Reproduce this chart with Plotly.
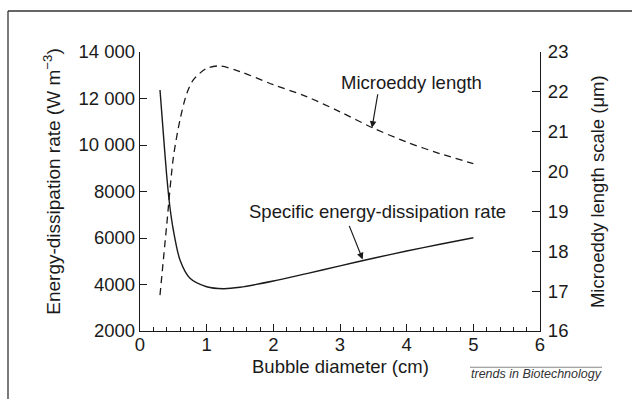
import plotly.graph_objects as go

# Data
diam_energy = [0.3, 0.35, 0.4, 0.45, 0.5, 0.6, 0.75, 1.0, 1.25, 1.5, 2.0, 2.5, 3.0, 3.5, 4.0, 4.5, 5.0]
energy_rate = [12366, 10500, 8700, 7300, 6344, 5054, 4267, 3905, 3820, 3880, 4150, 4470, 4800, 5130, 5440, 5730, 6010]

diam_eddy = [0.3, 0.4, 0.5, 0.6, 0.7, 0.8, 1.0, 1.2, 1.5, 2.0, 2.5, 3.0, 3.5, 4.0, 4.5, 5.0]
eddy_length = [16.9, 18.65, 20.35, 21.3, 21.95, 22.3, 22.59, 22.65, 22.51, 22.18, 21.88, 21.5, 21.09, 20.74, 20.45, 20.2]

x_ticks = [0, 1, 2, 3, 4, 5, 6]
y_ticks = [2000, 4000, 6000, 8000, 10000, 12000, 14000]
y_ticktext = ["2000", "4000", "6000", "8000", "10 000", "12 000", "14 000"]
y2_ticks = [16, 17, 18, 19, 20, 21, 22, 23]

FONT = "Liberation Sans, Arial, sans-serif"
INK = "#1a1a1a"
FS = 18.5

fig = go.Figure()
fig.add_trace(go.Scatter(x=diam_energy, y=energy_rate, mode="lines",
                         line=dict(color=INK, width=1.4, shape="spline", smoothing=0.8),
                         showlegend=False, yaxis="y", hoverinfo="skip"))
fig.add_trace(go.Scatter(x=diam_eddy, y=eddy_length, mode="lines",
                         line=dict(color=INK, width=1.3, dash="7px,5px", shape="spline", smoothing=0.8),
                         showlegend=False, yaxis="y2", hoverinfo="skip"))

axis_common = dict(showgrid=False, zeroline=False, showline=True, linecolor=INK, linewidth=1.3,
                   ticks="inside", tickcolor=INK, tickwidth=1.2,
                   tickfont=dict(family=FONT, size=FS, color=INK))

fig.update_layout(
    width=632, height=399,
    margin=dict(l=140, r=92, t=52, b=68),
    paper_bgcolor="white", plot_bgcolor="white",
    font=dict(family=FONT, color=INK),
    xaxis=dict(range=[0, 6], tickvals=x_ticks, ticklen=7, ticklabelstandoff=-3,
               minor=dict(ticks="inside", dtick=0.2, ticklen=4, tickcolor=INK, tickwidth=1.1),
               **axis_common),
    yaxis=dict(range=[2000, 14000], tickvals=y_ticks, ticktext=y_ticktext, ticklen=7,
               **axis_common),
    yaxis2=dict(range=[16, 23], tickvals=y2_ticks, ticklen=8, overlaying="y", side="right",
                ticklabelstandoff=3, **axis_common),
)

annotations = [
    dict(text="Bubble diameter (cm)", x=0.5, y=-0.128, xref="paper", yref="paper",
         showarrow=False, font=dict(size=FS, family=FONT, color=INK), xanchor="center", yanchor="middle"),
    dict(text="Energy-dissipation rate (W m<sup>−3</sup>)", x=-0.22, y=0.535, xref="paper", yref="paper",
         showarrow=False, textangle=-90, font=dict(size=19, family=FONT, color=INK),
         xanchor="center", yanchor="middle"),
    dict(text="Microeddy length scale (μm)", x=1.1425, y=0.498, xref="paper", yref="paper",
         showarrow=False, textangle=-90, font=dict(size=FS, family=FONT, color=INK),
         xanchor="center", yanchor="middle"),
    dict(text="Microeddy length", x=0.6775, y=0.889, xref="paper", yref="paper",
         showarrow=False, font=dict(size=FS, family=FONT, color=INK), xanchor="center", yanchor="middle"),
    dict(text="Specific energy-dissipation rate", x=0.594, y=0.4276, xref="paper", yref="paper",
         showarrow=False, font=dict(size=FS, family=FONT, color=INK), xanchor="center", yanchor="middle"),
    dict(text="", x=3.48, y=21.10, xref="x", yref="y2", ax=6, ay=-35, showarrow=True,
         arrowhead=2, arrowsize=1.1, arrowwidth=1.2, arrowcolor=INK, standoff=0),
    dict(text="", x=3.34, y=5080, xref="x", yref="y", ax=-14, ay=-35, showarrow=True,
         arrowhead=2, arrowsize=1.1, arrowwidth=1.2, arrowcolor=INK, standoff=0),
    dict(text="<i>trends in Biotechnology</i>", x=0.99, y=-0.154, xref="paper", yref="paper",
         showarrow=False, font=dict(size=12.5, family=FONT, color="#333333"),
         xanchor="center", yanchor="middle"),
]
fig.update_layout(annotations=annotations)

shapes = [
    dict(type="line", xref="paper", yref="paper", x0=-0.33, x1=1.4, y0=1.147, y1=1.147,
         line=dict(color="#333333", width=1.3)),
    dict(type="line", xref="paper", yref="paper", x0=-0.33, x1=-0.33, y0=-0.4, y1=1.147,
         line=dict(color="#333333", width=1.3)),
    dict(type="line", xref="paper", yref="paper", x0=0.825, x1=1.155, y0=-0.130, y1=-0.130,
         line=dict(color="#888888", width=1.2)),
]
fig.update_layout(shapes=shapes)

fig.write_html("out.html", config={"displayModeBar": False},
               post_script="document.body.style.margin='0';document.body.style.overflow='hidden';")
